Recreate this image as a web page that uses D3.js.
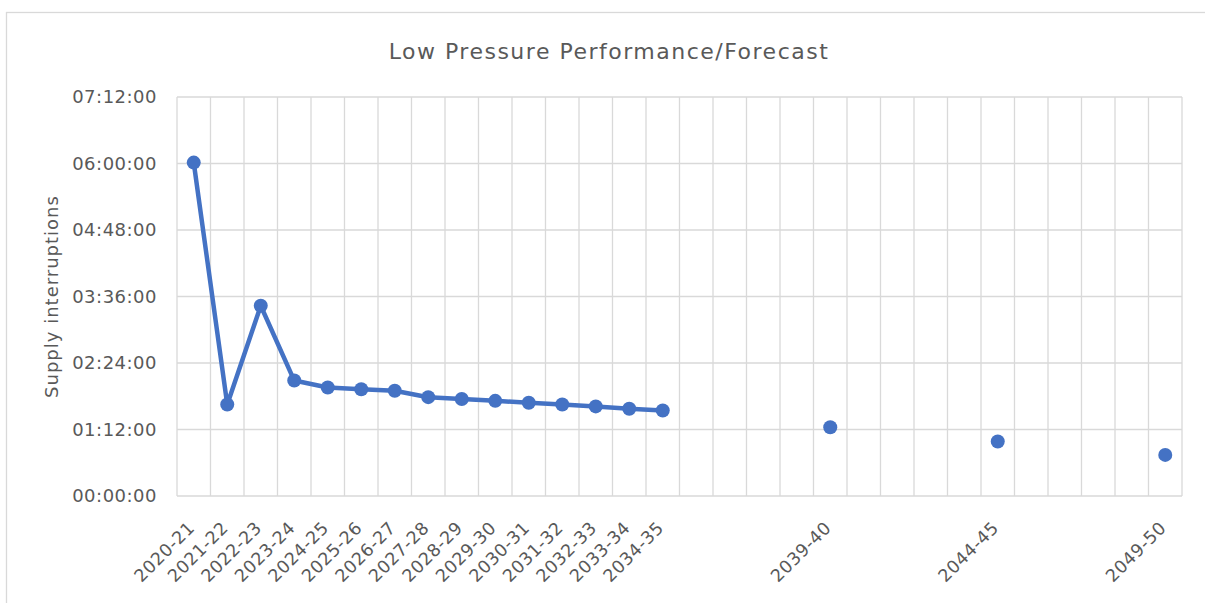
<!DOCTYPE html>
<html>
<head>
<meta charset="utf-8">
<script src="https://cdn.jsdelivr.net/npm/d3@7"></script>
<style>
  html, body { margin: 0; padding: 0; background: #ffffff; }
  svg { display: block; }
  text { font-family: "DejaVu Sans", sans-serif; fill: #595959; }
</style>
</head>
<body>
<svg id="chart" width="1205" height="603"></svg>
<script>
// ---- Data ----
const categories = ["2020-21","2021-22","2022-23","2023-24","2024-25","2025-26","2026-27","2027-28","2028-29","2029-30",
  "2030-31","2031-32","2032-33","2033-34","2034-35","2035-36","2036-37","2037-38","2038-39","2039-40",
  "2040-41","2041-42","2042-43","2043-44","2044-45","2045-46","2046-47","2047-48","2048-49","2049-50"];
const tickLabels = ["2020-21","2021-22","2022-23","2023-24","2024-25","2025-26","2026-27","2027-28","2028-29","2029-30",
  "2030-31","2031-32","2032-33","2033-34","2034-35","2039-40","2044-45","2049-50"];
// supply interruption duration, in minutes
const interruptionMinutes = [361, 99, 206, 125, 117.5, 115.5, 114, 107, 105, 103,
  101, 99, 97, 94.5, 92.5, null, null, null, null, 74.5,
  null, null, null, null, 59, null, null, null, null, 44.5];
const yTicks = [0, 72, 144, 216, 288, 360, 432];
const titleText = "Low Pressure Performance/Forecast";
const yAxisTitle = "Supply interruptions";

// ---- Layout ----
const svg = d3.select("#chart");
const pLeft = 177, pRight = 1182, pTop = 97, pBottom = 496;
const grid = "#d9d9d9";
const blue = "#4472C4";

// chart border (extends off-canvas right/bottom)
svg.append("rect").attr("x", 6.5).attr("y", 12.5).attr("width", 1260).attr("height", 700)
  .attr("fill", "none").attr("stroke", grid).attr("stroke-width", 1.3);

const x = d3.scaleBand().domain(categories).range([pLeft, pRight]).padding(0);
const y = d3.scaleLinear().domain([0, 432]).range([pBottom, pTop]);

const fmt = m => {
  const h = Math.floor(m / 60), mm = Math.round(m % 60);
  return String(h).padStart(2, "0") + ":" + String(mm).padStart(2, "0") + ":00";
};

// horizontal gridlines
svg.append("g").selectAll("line").data(yTicks).join("line")
  .attr("x1", pLeft).attr("x2", pRight)
  .attr("y1", d => y(d)).attr("y2", d => y(d))
  .attr("stroke", grid).attr("stroke-width", 1.3);

// vertical gridlines at band edges
const edges = categories.map(c => x(c)).concat([x(categories[categories.length - 1]) + x.bandwidth()]);
svg.append("g").selectAll("line").data(edges).join("line")
  .attr("x1", d => d).attr("x2", d => d)
  .attr("y1", pTop).attr("y2", pBottom)
  .attr("stroke", grid).attr("stroke-width", 1.3);

// y axis labels
svg.append("g").selectAll("text").data(yTicks).join("text")
  .attr("x", 157).attr("y", d => y(d)).attr("dy", "0.36em")
  .attr("text-anchor", "end").attr("font-size", 18).attr("letter-spacing", 0.5)
  .text(d => fmt(d));

// x axis labels
svg.append("g").selectAll("text").data(tickLabels).join("text")
  .attr("transform", d => `translate(${x(d) + x.bandwidth() / 2 + 2},${pBottom + 33}) rotate(-45)`)
  .attr("text-anchor", "end").attr("font-size", 17.5).attr("letter-spacing", 0.5)
  .text(d => d);

// title
svg.append("text").attr("x", 609).attr("y", 59).attr("text-anchor", "middle")
  .attr("font-size", 22).attr("letter-spacing", 1.5).text(titleText);

// y axis title
svg.append("text").attr("transform", `translate(58,${(pTop + pBottom) / 2}) rotate(-90)`)
  .attr("text-anchor", "middle").attr("font-size", 18).attr("letter-spacing", 1).text(yAxisTitle);

// line + markers
const pts = categories.map((c, i) => ({ c, v: interruptionMinutes[i] }));
const line = d3.line()
  .defined(d => d.v != null)
  .x(d => x(d.c) + x.bandwidth() / 2)
  .y(d => y(d.v));
svg.append("path").datum(pts).attr("d", line)
  .attr("fill", "none").attr("stroke", blue).attr("stroke-width", 4.5)
  .attr("stroke-linejoin", "round").attr("stroke-linecap", "round");

svg.append("g").selectAll("circle").data(pts.filter(d => d.v != null)).join("circle")
  .attr("cx", d => x(d.c) + x.bandwidth() / 2)
  .attr("cy", d => y(d.v))
  .attr("r", 7).attr("fill", blue);
</script>
</body>
</html>
